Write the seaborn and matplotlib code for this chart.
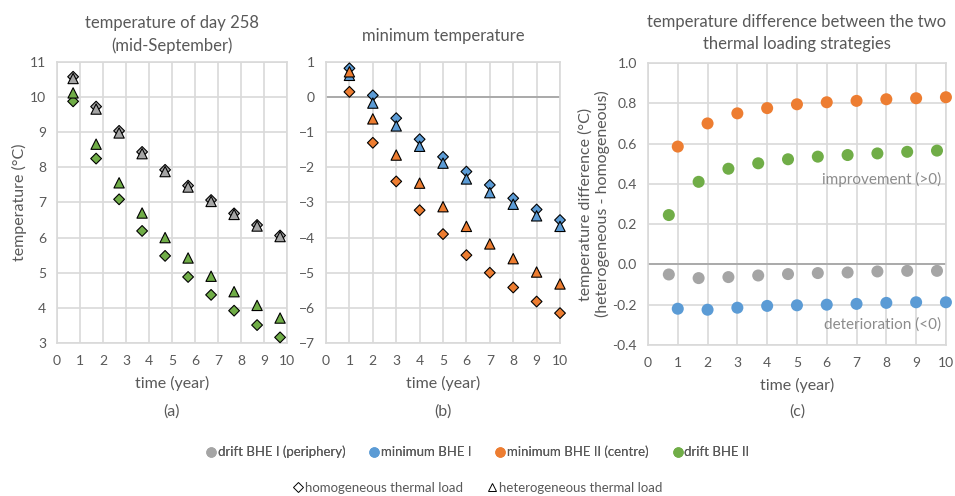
import matplotlib
matplotlib.use("Agg")
import matplotlib.pyplot as plt
import numpy as np
import pandas as pd
import seaborn as sns
from matplotlib.lines import Line2D

# ---------------- data ----------------
time_min = [1, 2, 3, 4, 5, 6, 7, 8, 9, 10]
time_drift = [0.7, 1.7, 2.7, 3.7, 4.7, 5.7, 6.7, 7.7, 8.7, 9.7]

# (a) temperature of day 258
drift1_homog = [10.58, 9.73, 9.04, 8.44, 7.93, 7.48, 7.07, 6.69, 6.36, 6.06]
drift1_heter = [10.53, 9.66, 8.98, 8.39, 7.88, 7.44, 7.03, 6.66, 6.33, 6.03]
drift2_homog = [9.88, 8.25, 7.09, 6.19, 5.48, 4.88, 4.37, 3.92, 3.51, 3.16]
drift2_heter = [10.12, 8.66, 7.56, 6.70, 6.00, 5.42, 4.90, 4.46, 4.07, 3.71]

# (b) minimum temperature
min1_homog = [0.82, 0.05, -0.60, -1.20, -1.70, -2.12, -2.50, -2.88, -3.20, -3.50]
min1_heter = [0.62, -0.17, -0.82, -1.40, -1.88, -2.33, -2.72, -3.05, -3.38, -3.68]
min2_homog = [0.15, -1.30, -2.40, -3.22, -3.90, -4.50, -5.00, -5.42, -5.82, -6.15]
min2_heter = [0.72, -0.62, -1.65, -2.45, -3.12, -3.68, -4.18, -4.60, -4.98, -5.32]

# (c) difference heterogeneous - homogeneous
diff_drift1 = [-0.050, -0.068, -0.063, -0.055, -0.048, -0.043, -0.040, -0.035, -0.032, -0.032]
diff_min1 = [-0.220, -0.225, -0.215, -0.206, -0.203, -0.200, -0.196, -0.191, -0.188, -0.188]
diff_min2 = [0.585, 0.700, 0.750, 0.776, 0.795, 0.805, 0.812, 0.820, 0.825, 0.830]
diff_drift2 = [0.245, 0.410, 0.475, 0.502, 0.522, 0.535, 0.543, 0.551, 0.559, 0.565]

series_names = ["drift BHE I (periphery)", "minimum BHE I", "minimum BHE II (centre)", "drift BHE II"]
series_colors = ["#A5A5A5", "#5B9BD5", "#ED7D31", "#70AD47"]
load_names = ["homogeneous thermal load", "heterogeneous thermal load"]

# ---------------- style ----------------
sns.set_style("white")
plt.rcParams['font.family'] = ['Lato', 'DejaVu Sans']
plt.rcParams['font.weight'] = 'normal'
TXT = "#595959"
GRID = "#D9D9D9"
TICK_FS = 10
LAB_FS = 11.5
TITLE_FS = 12
palette = dict(zip(series_names, series_colors))
markers = {load_names[0]: "D", load_names[1]: "^"}
sizes_map = {load_names[0]: 30, load_names[1]: 55}

fig = plt.figure(figsize=(9.55, 4.96), dpi=100)
axa = fig.add_axes([0.0597, 0.3085, 0.2408, 0.5665])
axb = fig.add_axes([0.3414, 0.3085, 0.2450, 0.5665])
axc = fig.add_axes([0.6785, 0.3045, 0.3120, 0.5685])


def long_df(x, pairs):
    rows = []
    for name, load, vals in pairs:
        for xi, v in zip(x, vals):
            rows.append({"time": xi, "value": v, "series": name, "load": load})
    return pd.DataFrame(rows)


def style_axes(ax, ylim, yticks, fmt=None):
    ax.set_xlim(0, 10)
    ax.set_ylim(*ylim)
    ax.set_xticks(range(0, 11))
    ax.set_yticks(yticks)
    if fmt:
        ax.set_yticklabels([fmt.format(t) for t in yticks])
    ax.grid(True, color=GRID, linewidth=1.2)
    ax.set_axisbelow(True)
    for sp in ax.spines.values():
        sp.set_color(GRID)
        sp.set_linewidth(1.2)
    ax.tick_params(axis="both", colors=TXT, labelsize=TICK_FS, length=0)
    ax.tick_params(axis="x", pad=9)
    ax.tick_params(axis="y", pad=8)
    ax.set_xlabel("time (year)", color=TXT, fontsize=LAB_FS, labelpad=6)
    for coll in ax.collections:
        coll.set_clip_on(False)


# ---- panel (a)
dfa = pd.concat([
    long_df(time_drift, [(series_names[0], load_names[0], drift1_homog),
                         (series_names[3], load_names[0], drift2_homog)]),
    long_df(time_drift, [(series_names[0], load_names[1], drift1_heter),
                         (series_names[3], load_names[1], drift2_heter)]),
])
for load in load_names:
    sub = dfa[dfa["load"] == load]
    sns.scatterplot(data=sub, x="time", y="value", hue="series", palette=palette,
                    marker=markers[load], s=sizes_map[load], edgecolor="black",
                    linewidth=0.8, legend=False, ax=axa, zorder=3)
style_axes(axa, (3, 11), range(3, 12))
axa.set_ylabel("temperature (°C)", color=TXT, fontsize=LAB_FS, labelpad=2)
axa.set_title("temperature of day 258\n(mid-September)", color=TXT, fontsize=TITLE_FS, pad=8,
              linespacing=1.45)

# ---- panel (b)
dfb = pd.concat([
    long_df(time_min, [(series_names[1], load_names[0], min1_homog),
                       (series_names[2], load_names[0], min2_homog)]),
    long_df(time_min, [(series_names[1], load_names[1], min1_heter),
                       (series_names[2], load_names[1], min2_heter)]),
])
for load in load_names:
    sub = dfb[dfb["load"] == load]
    sns.scatterplot(data=sub, x="time", y="value", hue="series", palette=palette,
                    marker=markers[load], s=sizes_map[load], edgecolor="black",
                    linewidth=0.8, legend=False, ax=axb, zorder=3)
style_axes(axb, (-7, 1), range(-7, 2))
axb.axhline(0, color="#A6A6A6", linewidth=1.3, zorder=1)
axb.set_ylabel("")
axb.set_title("minimum temperature", color=TXT, fontsize=TITLE_FS, pad=15)

# ---- panel (c)
dfc = pd.concat([
    long_df(time_drift, [(series_names[0], "d", diff_drift1), (series_names[3], "d", diff_drift2)]),
    long_df(time_min, [(series_names[1], "d", diff_min1), (series_names[2], "d", diff_min2)]),
])
sns.scatterplot(data=dfc, x="time", y="value", hue="series", palette=palette,
                marker="o", s=75, linewidth=0, legend=False, ax=axc, zorder=3)
style_axes(axc, (-0.4, 1.0), np.round(np.arange(-0.4, 1.01, 0.2), 1), fmt="{:.1f}")
axc.axhline(0, color="#A6A6A6", linewidth=1.3, zorder=1)
axc.set_ylabel("temperature difference (°C)\n(heterogeneous - homogeneous)", color=TXT,
               fontsize=LAB_FS, labelpad=2, linespacing=1.15)
axc.set_title("temperature difference between the two\nthermal loading strategies",
              color=TXT, fontsize=TITLE_FS, pad=10, linespacing=1.45)
axc.text(9.85, 0.42, "improvement (>0)", color="#8C8C8C", fontsize=11, ha="right", va="center")
axc.text(9.85, -0.30, "deterioration (<0)", color="#8C8C8C", fontsize=11, ha="right", va="center")

# panel labels
for ax, lab in [(axa, "(a)"), (axb, "(b)"), (axc, "(c)")]:
    pos = ax.get_position()
    fig.text(pos.x0 + pos.width / 2, 1 - 412 / 496, lab, color=TXT, fontsize=LAB_FS,
             ha="center", va="center")

# legends
lprop = {"family": ["Lato", "DejaVu Sans"], "weight": "normal", "size": 9.5}
h1 = [Line2D([], [], marker="o", linestyle="none", markersize=7.5, markerfacecolor=c,
             markeredgewidth=0, label=n) for n, c in zip(series_names, series_colors)]
leg1 = fig.legend(handles=h1, loc="center", bbox_to_anchor=(0.5, 1 - 452 / 496), ncol=4,
                  frameon=False, prop=lprop, handletextpad=0.1, columnspacing=1.8,
                  handlelength=0.8)
h2 = [Line2D([], [], marker="D", linestyle="none", markersize=5, markerfacecolor="white",
             markeredgecolor="black", markeredgewidth=0.7, label=load_names[0]),
      Line2D([], [], marker="^", linestyle="none", markersize=6, markerfacecolor="white",
             markeredgecolor="black", markeredgewidth=0.7, label=load_names[1])]
leg2 = fig.legend(handles=h2, loc="center", bbox_to_anchor=(0.5, 1 - 488 / 496), ncol=2,
                  frameon=False, prop=lprop, handletextpad=0.1, columnspacing=1.8,
                  handlelength=0.8)
for lg in (leg1, leg2):
    for t in lg.get_texts():
        t.set_color(TXT)
fig.add_artist(leg1)

fig.savefig("out.png", dpi=100)
